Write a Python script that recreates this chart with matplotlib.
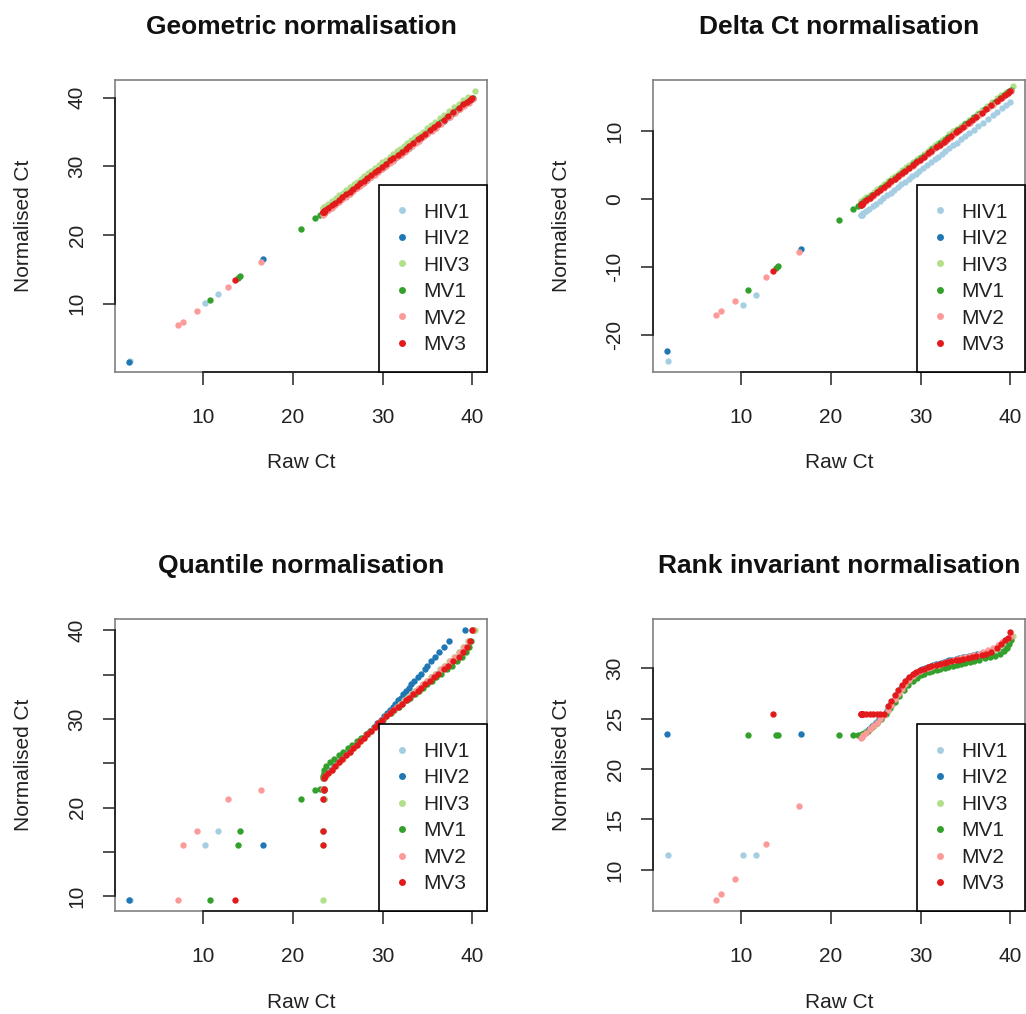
import matplotlib
matplotlib.use("Agg")
import matplotlib.pyplot as plt
from matplotlib.lines import Line2D

plt.rcParams['font.family'] = ['Liberation Sans', 'DejaVu Sans']

samples = ["HIV1", "HIV2", "HIV3", "MV1", "MV2", "MV3"]
colors = ["#A6CEE3", "#1F78B4", "#B2DF8A", "#33A02C", "#FB9A99", "#E31A1C"]

# Raw Ct values per sample, sorted ascending (same gene count per sample)
raw_hiv1 = [1.85, 10.2, 11.6, 23.3, 23.35, 23.4, 23.4, 23.6, 23.9, 24.25, 24.65, 25.05,
            25.45, 25.85, 26.25, 26.65, 27.05, 27.45, 27.85, 28.25, 28.65, 29.05, 29.45,
            29.85, 30.3, 30.75, 31.1, 31.6, 31.95, 32.4, 32.75, 33.2, 33.65, 34.0, 34.5,
            34.95, 35.4, 35.9, 36.45, 36.95, 37.5, 38.05, 38.55, 39.05, 39.5, 39.95]
raw_hiv2 = [1.7, 16.7, 23.35, 23.4, 23.4, 23.4, 23.4, 23.55, 23.85, 24.2, 24.6, 25.0,
            25.4, 25.8, 26.2, 26.6, 27.0, 27.4, 27.8, 28.2, 28.6, 29.0, 29.4, 29.8, 30.1,
            30.5, 30.8, 31.1, 31.4, 31.7, 32.0, 32.3, 32.6, 32.9, 33.2, 33.55, 33.9, 34.25,
            34.7, 35.0, 35.4, 35.8, 36.3, 36.8, 37.4, 39.2]
raw_hiv3 = [23.3, 23.3, 23.35, 23.4, 23.4, 23.4, 23.45, 23.65, 23.95, 24.35, 24.75, 25.15,
            25.55, 25.95, 26.35, 26.75, 27.15, 27.55, 27.95, 28.35, 28.75, 29.15, 29.55,
            29.95, 30.35, 30.8, 31.15, 31.6, 31.95, 32.4, 32.75, 33.2, 33.65, 34.0, 34.45,
            34.9, 35.35, 35.8, 36.35, 36.8, 37.4, 37.95, 38.5, 39.0, 39.5, 40.3]
raw_mv1 = [10.7, 13.9, 14.1, 20.9, 22.5, 23.0, 23.3, 23.35, 23.4, 23.5, 23.7, 24.1, 24.6,
           25.1, 25.6, 26.1, 26.6, 27.1, 27.6, 28.1, 28.6, 29.1, 29.55, 30.0, 30.4, 30.9,
           31.3, 31.8, 32.2, 32.7, 33.1, 33.6, 34.1, 34.5, 35.0, 35.5, 36.0, 36.5, 37.2,
           37.7, 38.3, 38.8, 39.3, 39.6, 39.9, 40.1]
raw_mv2 = [7.2, 7.7, 9.3, 12.7, 16.4, 23.3, 23.4, 23.6, 23.9, 24.3, 24.7, 25.1, 25.5, 25.9,
           26.3, 26.7, 27.1, 27.5, 27.9, 28.3, 28.7, 29.1, 29.5, 29.9, 30.35, 30.8, 31.15,
           31.65, 32.0, 32.45, 32.8, 33.25, 33.7, 34.05, 34.55, 35.0, 35.45, 35.95, 36.5,
           37.0, 37.55, 38.1, 38.6, 39.1, 39.6, 40.1]
raw_mv3 = [13.5, 23.3, 23.3, 23.35, 23.4, 23.4, 23.45, 23.6, 23.9, 24.3, 24.7, 25.1, 25.5,
           25.9, 26.3, 26.7, 27.1, 27.5, 27.9, 28.3, 28.7, 29.1, 29.5, 29.9, 30.35, 30.85,
           31.2, 31.7, 32.1, 32.55, 32.9, 33.4, 33.9, 34.25, 34.75, 35.25, 35.7, 36.2, 36.8,
           37.3, 37.9, 38.5, 39.0, 39.4, 39.7, 40.0]

# Per-sample scaling factor subtracted by geometric-mean normalisation
geo_factor = [0.15, 0.2, -0.6, 0.1, 0.33, 0.0]
# Per-sample reference (housekeeping) Ct subtracted by delta Ct normalisation
delta_reference = [25.7, 24.0, 23.7, 24.0, 24.2, 24.1]

# Quantile normalisation: common target value for each rank
quantile_target = [9.6, 15.8, 17.4, 21.0, 22.05, 22.1, 23.4, 23.6, 23.9, 24.3, 24.7, 25.1,
                   25.5, 25.9, 26.3, 26.7, 27.1, 27.5, 27.9, 28.3, 28.7, 29.1, 29.5, 29.9,
                   30.3, 30.7, 31.0, 31.4, 31.7, 32.1, 32.4, 32.8, 33.2, 33.5, 33.9, 34.3,
                   34.7, 35.1, 35.6, 36.0, 36.5, 37.0, 37.5, 38.1, 38.8, 40.0]

# Rank invariant normalised values per sample (same gene order as raw lists)
rank_hiv1 = [11.45, 11.45, 11.45, 23.3, 23.3, 23.35, 23.35, 23.5, 23.75, 24.0, 24.35, 24.65,
             25.0, 25.4, 25.85, 26.35, 26.85, 27.45, 27.95, 28.4, 28.85, 29.15, 29.45, 29.7,
             29.85, 30.0, 30.1, 30.2, 30.3, 30.4, 30.5, 30.6, 30.7, 30.8, 30.9, 30.95, 31.05,
             31.1, 31.2, 31.3, 31.4, 31.5, 31.7, 32.0, 32.5, 33.0]
rank_hiv2 = [23.5, 23.5, 23.3, 23.35, 23.35, 23.35, 23.35, 23.5, 23.7, 24.0, 24.3, 24.6, 25.0,
             25.4, 25.8, 26.3, 26.8, 27.4, 28.0, 28.45, 28.9, 29.2, 29.5, 29.75, 29.9, 30.05,
             30.1, 30.2, 30.3, 30.4, 30.45, 30.55, 30.6, 30.7, 30.8, 30.85, 30.95, 31.0, 31.1,
             31.15, 31.25, 31.3, 31.4, 31.5, 31.6, 32.0]
rank_hiv3 = [23.2, 23.2, 23.2, 23.25, 23.25, 23.25, 23.3, 23.45, 23.65, 23.95, 24.25, 24.6,
             24.95, 25.35, 25.8, 26.3, 26.85, 27.4, 27.9, 28.35, 28.75, 29.05, 29.35, 29.6,
             29.75, 29.85, 29.95, 30.1, 30.2, 30.3, 30.4, 30.55, 30.65, 30.7, 30.8, 30.9,
             30.95, 31.05, 31.15, 31.25, 31.35, 31.55, 31.85, 32.2, 32.55, 33.2]
rank_mv1 = [23.4, 23.4, 23.4, 23.4, 23.4, 23.4, 23.35, 23.35, 23.4, 23.45, 23.55, 23.8, 24.15,
            24.55, 25.0, 25.5, 26.0, 26.6, 27.2, 27.8, 28.3, 28.7, 29.0, 29.3, 29.45, 29.6,
            29.7, 29.8, 29.9, 30.0, 30.1, 30.25, 30.35, 30.45, 30.55, 30.65, 30.75, 30.85,
            31.0, 31.1, 31.25, 31.45, 31.7, 32.0, 32.4, 32.8]
rank_mv2 = [7.0, 7.6, 9.15, 12.6, 16.35, 23.1, 23.2, 23.35, 23.6, 23.95, 24.3, 24.6, 25.0,
            25.4, 25.85, 26.35, 26.9, 27.45, 27.95, 28.4, 28.85, 29.2, 29.5, 29.75, 29.9,
            30.05, 30.15, 30.3, 30.35, 30.5, 30.6, 30.7, 30.8, 30.9, 31.0, 31.1, 31.2, 31.3,
            31.45, 31.6, 31.75, 32.0, 32.3, 32.6, 32.9, 33.2]
rank_mv3 = [25.5, 25.5, 25.5, 25.5, 25.5, 25.5, 25.5, 25.5, 25.5, 25.5, 25.5, 25.5, 25.5,
            25.5, 26.2, 26.7, 27.3, 27.8, 28.3, 28.7, 29.1, 29.4, 29.6, 29.8, 29.95, 30.1,
            30.2, 30.3, 30.4, 30.5, 30.6, 30.7, 30.8, 30.85, 30.95, 31.05, 31.1, 31.2, 31.3,
            31.4, 31.6, 32.0, 32.4, 32.8, 33.0, 33.6]

raw_ct = [raw_hiv1, raw_hiv2, raw_hiv3, raw_mv1, raw_mv2, raw_mv3]
rank_invariant = [rank_hiv1, rank_hiv2, rank_hiv3, rank_mv1, rank_mv2, rank_mv3]

geometric = [[v - f for v in r] for r, f in zip(raw_ct, geo_factor)]
delta_ct = [[v - ref for v in r] for r, ref in zip(raw_ct, delta_reference)]
quantile = [quantile_target for _ in raw_ct]

panels = [
    ("Geometric normalisation", geometric, (0.05, 42.55), [10, 20, 30, 40], ["10", "20", "30", "40"]),
    ("Delta Ct normalisation", delta_ct, (-25.4, 17.5), [-20, -10, 0, 10], ["-20", "-10", "0", "10"]),
    ("Quantile normalisation", quantile, (8.36, 41.27), [10, 15, 20, 25, 30, 35, 40],
     ["10", "", "20", "", "30", "", "40"]),
    ("Rank invariant normalisation", rank_invariant, (5.93, 34.87), [10, 15, 20, 25, 30],
     ["10", "15", "20", "25", "30"]),
]

W, H = 1026, 1014
fig = plt.figure(figsize=(W / 100, H / 100), dpi=100)
rects = [(115, 80), (653, 80), (115, 619), (653, 619)]
box_w, box_h = 372, 292

XLIM = (0.13, 41.64)
XTICKS = [10, 20, 30, 40]
FS = 15

for (title, normed, ylim, yticks, ylabels), (px, py) in zip(panels, rects):
    ax = fig.add_axes([px / W, 1 - (py + box_h) / H, box_w / W, box_h / H])
    for raw, vals, col in zip(raw_ct, normed, colors):
        ax.scatter(raw, vals, s=21, color=col, linewidths=0, zorder=3)
    ax.set_xlim(*XLIM)
    ax.set_ylim(*ylim)
    ax.set_xticks(XTICKS)
    ax.set_xticklabels([str(t) for t in XTICKS], fontsize=FS)
    ax.set_yticks(yticks)
    ax.set_yticklabels(ylabels, fontsize=FS, rotation=90, va="center")
    ax.tick_params(axis="both", direction="out", length=9, width=1.1, color="#222222",
                   labelcolor="#222222")
    ax.tick_params(axis="x", pad=17)
    ax.tick_params(axis="y", pad=11.5)
    for sp in ax.spines.values():
        sp.set_color("#808080")
        sp.set_linewidth(1.2)
    # axis lines spanning the tick range, as drawn by R's axis()
    ax.plot([XTICKS[0], XTICKS[-1]], [ylim[0], ylim[0]], color="#222222", lw=1.3,
            clip_on=False, zorder=4)
    ax.plot([XLIM[0], XLIM[0]], [yticks[0], yticks[-1]], color="#222222", lw=1.3,
            clip_on=False, zorder=4)
    ax.set_xlabel("Raw Ct", fontsize=FS, labelpad=19, color="#222222")
    ax.set_ylabel("Normalised Ct", fontsize=FS, labelpad=25, color="#222222")
    ax.set_title(title, fontsize=19, fontweight="bold", pad=33, color="#111111")

    handles = [Line2D([], [], marker="o", ls="", color=c, markersize=5, markeredgewidth=0)
               for c in colors]
    leg = ax.legend(handles, samples, loc="lower right", bbox_to_anchor=(1, 0),
                    borderaxespad=0, frameon=True, fancybox=False, edgecolor="black",
                    framealpha=1, borderpad=0.85, labelspacing=0.36, handlelength=0.47,
                    handletextpad=0.77, fontsize=FS)
    leg.get_frame().set_linewidth(1.2)
    for t in leg.get_texts():
        t.set_color("#222222")

fig.savefig("out.png", dpi=100)
